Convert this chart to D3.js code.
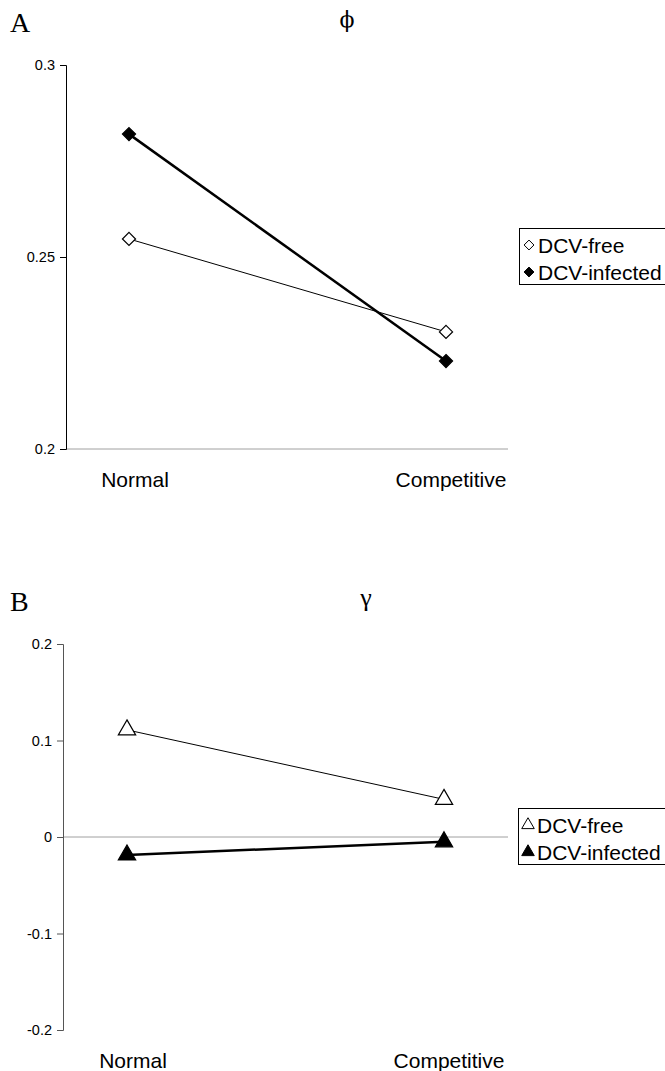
<!DOCTYPE html>
<html lang="en">
  <head>
    <meta charset="UTF-8" />
    <script src="https://cdnjs.cloudflare.com/ajax/libs/d3/7.8.5/d3.min.js"></script>
    <title>phi and gamma</title>
    <style>
      body {
        margin: 0;
        background: white;
      }
      text {
        font-family: "Liberation Sans", Arial, sans-serif;
        fill: #000;
      }
      text.letter {
        font-family: "Liberation Serif", "Times New Roman", serif;
      }
      text.phi {
        font-family: "DejaVu Serif", serif;
      }
      text.gamma {
        font-family: "Liberation Serif", "Times New Roman", serif;
      }
    </style>
  </head>
  <body>
    <script>
      const categories = ["Normal", "Competitive"];
      const seriesNames = ["DCV-free", "DCV-infected"];

      const phiFree = [0.2547, 0.2305];
      const phiInfected = [0.282, 0.2229];
      const phiTicks = [0.2, 0.25, 0.3];
      const phiTickLabels = ["0.2", "0.25", "0.3"];

      const gammaFree = [0.111, 0.039];
      const gammaInfected = [-0.0186, -0.005];
      const gammaTicks = [-0.2, -0.1, 0, 0.1, 0.2];
      const gammaTickLabels = ["-0.2", "-0.1", "0", "0.1", "0.2"];

      const svg = d3
        .select("body")
        .append("svg")
        .attr("width", 665)
        .attr("height", 1071);

      function drawPanel(opt) {
        const g = svg.append("g");

        const y = d3.scaleLinear().domain(opt.domain).range([opt.bottom, opt.top]);
        const x = d3.scalePoint().domain(categories).range([opt.xa, opt.xb]);

        // panel letter and title
        g.append("text")
          .attr("class", "letter")
          .attr("x", 10)
          .attr("y", opt.top - 33)
          .attr("font-size", 28)
          .text(opt.letter);
        g.append("text")
          .attr("class", opt.titleClass)
          .attr("x", opt.titleX)
          .attr("y", opt.top - 38)
          .attr("text-anchor", "middle")
          .attr("font-size", opt.titleSize)
          .text(opt.title);

        // grey reference line
        g.append("line")
          .attr("x1", opt.axisX)
          .attr("x2", opt.gridEnd)
          .attr("y1", y(opt.refLine))
          .attr("y2", y(opt.refLine))
          .attr("stroke", "#a0a0a0")
          .attr("stroke-width", 1);

        // y axis
        const axis = d3
          .axisLeft(y)
          .tickValues(opt.ticks)
          .tickFormat((d, i) => opt.tickLabels[i])
          .tickSize(6)
          .tickPadding(5);
        const ag = g
          .append("g")
          .attr("transform", `translate(${opt.axisX},0)`)
          .call(axis);
        ag.select(".domain").attr("stroke", opt.axisColor).attr("d", `M-6,${opt.top + 0.5}H0.5V${opt.bottom + 0.5}H-6`);
        ag.selectAll(".tick line").attr("stroke", opt.axisColor);
        ag.selectAll(".tick text").attr("font-size", 14.5);

        // category labels
        g.append("g")
          .selectAll("text")
          .data(categories)
          .join("text")
          .attr("x", (d) => x(d) + (d === "Normal" ? 6 : 5))
          .attr("y", opt.bottom + 38)
          .attr("text-anchor", "middle")
          .attr("font-size", 21)
          .text((d) => d);

        const series = [
          { name: seriesNames[0], values: opt.free, width: 1, fill: "white" },
          { name: seriesNames[1], values: opt.infected, width: 2.5, fill: "black" },
        ];

        const line = d3
          .line()
          .x((d, i) => x(categories[i]))
          .y((d) => y(d));

        g.append("g")
          .selectAll("path")
          .data(series)
          .join("path")
          .attr("d", (d) => line(d.values))
          .attr("fill", "none")
          .attr("stroke", "black")
          .attr("stroke-width", (d) => d.width);

        const sym = d3.symbol().type(opt.symbol).size(opt.symbolSize);

        series.forEach((s) => {
          g.append("g")
            .selectAll("path")
            .data(s.values)
            .join("path")
            .attr("transform", (d, i) => `translate(${x(categories[i])},${y(d)})`)
            .attr("d", sym)
            .attr("fill", s.fill)
            .attr("stroke", "black")
            .attr("stroke-width", 1.2);
        });

        // legend (runs off the right edge like the original)
        const lg = g.append("g").attr("transform", `translate(${opt.legX},${opt.legY})`);
        lg.append("rect")
          .attr("x", 0.5)
          .attr("y", 0.5)
          .attr("width", 180)
          .attr("height", 56)
          .attr("fill", "white")
          .attr("stroke", "black")
          .attr("stroke-width", 1);
        const lsym = d3.symbol().type(opt.symbol).size(opt.legendSymbolSize);
        series.forEach((s, i) => {
          const cy = 17 + i * 27;
          lg.append("path")
            .attr("transform", `translate(10,${cy})`)
            .attr("d", lsym)
            .attr("fill", s.fill)
            .attr("stroke", "black")
            .attr("stroke-width", 1);
          lg.append("text")
            .attr("x", 19)
            .attr("y", cy + 8)
            .attr("font-size", 21)
            .text(s.name);
        });
      }

      drawPanel({
        letter: "A",
        title: "\u03d5",
        titleClass: "phi",
        titleSize: 22,
        titleX: 347,
        domain: [0.2, 0.3],
        ticks: phiTicks,
        tickLabels: phiTickLabels,
        top: 65,
        bottom: 449,
        axisX: 66,
        axisColor: "#000",
        gridEnd: 508,
        refLine: 0.2,
        xa: 129,
        xb: 446,
        free: phiFree,
        infected: phiInfected,
        symbol: d3.symbolDiamond2,
        symbolSize: 110,
        legendSymbolSize: 62,
        legX: 519,
        legY: 228,
      });

      drawPanel({
        letter: "B",
        title: "\u03b3",
        titleClass: "gamma",
        titleSize: 26,
        titleX: 366,
        domain: [-0.2, 0.2],
        ticks: gammaTicks,
        tickLabels: gammaTickLabels,
        top: 644,
        bottom: 1030,
        axisX: 63,
        axisColor: "#555",
        gridEnd: 508,
        refLine: 0,
        xa: 127,
        xb: 444,
        free: gammaFree,
        infected: gammaInfected,
        symbol: d3.symbolTriangle,
        symbolSize: 130,
        legendSymbolSize: 68,
        legX: 518,
        legY: 808,
      });
    </script>
  </body>
</html>
